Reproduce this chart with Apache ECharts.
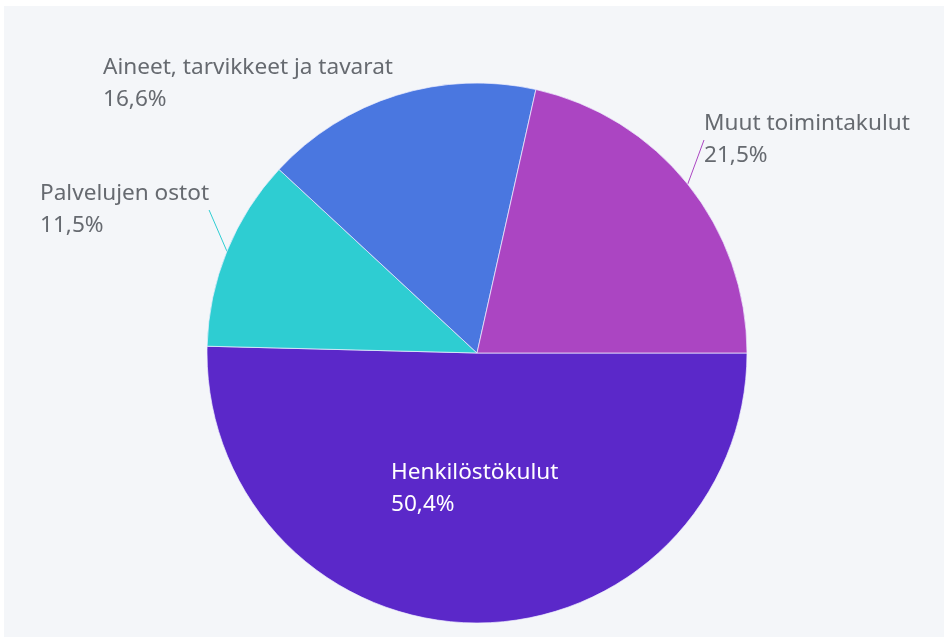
<!DOCTYPE html>
<html>
<head>
<meta charset="utf-8">
<script src="https://cdn.jsdelivr.net/npm/echarts@6/dist/echarts.min.js"></script>
<style>
html,body{margin:0;padding:0;background:#ffffff;width:944px;height:637px;overflow:hidden;}
#chart{position:absolute;left:4px;top:6px;width:940px;height:631px;background:#f4f6f9;}
</style>
</head>
<body>
<div id="chart"></div>
<script>
const categories = ['Henkilöstökulut', 'Palvelujen ostot', 'Aineet, tarvikkeet ja tavarat', 'Muut toimintakulut'];
const shares = [50.4, 11.5, 16.6, 21.5];
const colors = ['#5b28c9', '#2ecdd2', '#4a77e0', '#ab45c2'];

const labelSpots = [
  {x: 387, y: 451},
  {x: 36, y: 172},
  {x: 99, y: 46},
  {x: 700, y: 102}
];

const chart = echarts.init(document.getElementById('chart'));
chart.setOption({
  animation: false,
  series: [{
    type: 'pie',
    center: [473, 347],
    radius: 270,
    startAngle: 0,
    clockwise: true,
    avoidLabelOverlap: false,
    itemStyle: {borderColor: 'rgba(240,240,255,0.7)', borderWidth: 1},
    label: {
      show: true,
      position: 'outside',
      fontFamily: 'Noto Sans',
      fontSize: 22.6,
      lineHeight: 32,
      color: '#666a70',
      align: 'left',
      formatter: p => p.name + '\n' + p.value.toFixed(1).replace('.', ',') + '%'
    },
    labelLine: {show: true, length: 10, length2: 0, lineStyle: {width: 1}},
    labelLayout: p => Object.assign({align: 'left', verticalAlign: 'top'}, labelSpots[p.dataIndex]),
    data: categories.map((c, i) => {
      const d = {name: c, value: shares[i], itemStyle: {color: colors[i]}};
      if (i === 0) {
        d.label = {position: 'inside', color: '#ffffff'};
        d.labelLine = {show: false};
      }
      if (i === 2) {
        d.labelLine = {show: false};
      }
      return d;
    })
  }]
});
</script>
</body>
</html>
